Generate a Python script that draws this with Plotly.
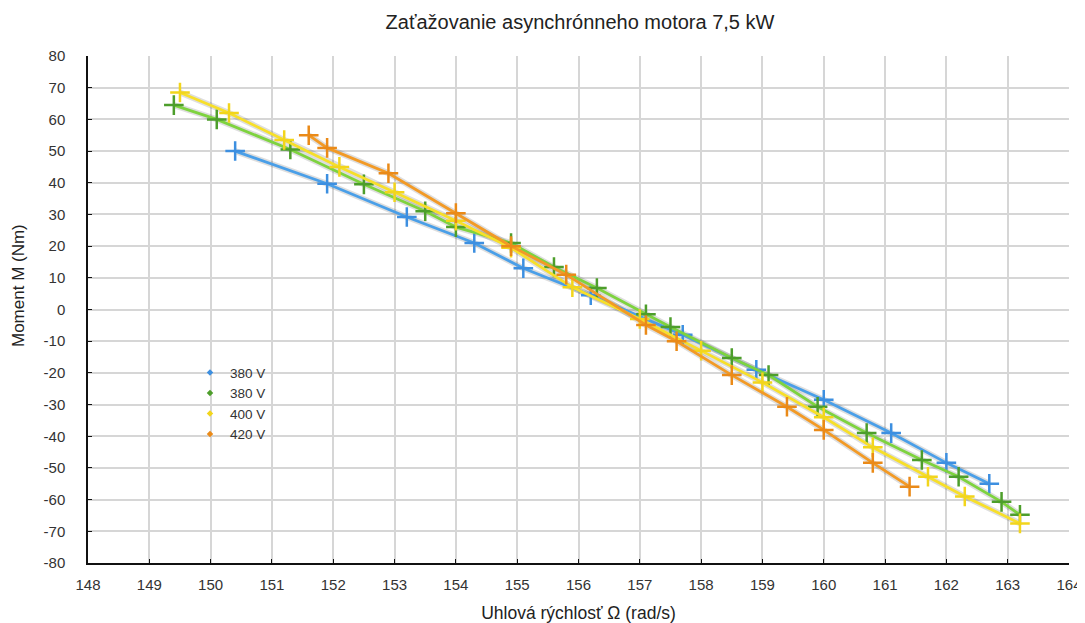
import plotly.graph_objects as go

# Data
blue_x = [150.4, 151.9, 153.2, 154.3, 155.1, 156.2, 157.7, 158.9, 160.0, 161.1, 162.0, 162.7]
blue_y = [50.0, 39.7, 29.2, 21.0, 13.0, 4.5, -8.0, -19.0, -28.5, -39.0, -48.4, -55.0]

green_x = [149.4, 150.1, 151.3, 152.5, 153.5, 154.0, 154.9, 155.6, 156.3, 157.1, 157.5,
           158.5, 159.1, 159.9, 160.7, 161.6, 162.2, 162.9, 163.2]
green_y = [64.5, 60.0, 50.5, 39.5, 31.0, 26.0, 21.0, 13.4, 6.8, -1.5, -5.5,
           -15.3, -20.7, -30.7, -39.0, -47.5, -52.8, -60.7, -64.8]

yellow_x = [149.5, 150.3, 151.2, 152.1, 153.0, 154.0, 154.9, 155.9, 157.0, 158.0,
            159.0, 160.0, 160.8, 161.7, 162.3, 163.2]
yellow_y = [68.5, 62.0, 53.5, 45.0, 37.0, 28.0, 19.5, 7.0, -3.0, -13.0,
            -23.0, -34.0, -43.5, -52.8, -59.0, -67.5]

orange_x = [151.6, 151.9, 152.9, 154.0, 154.9, 155.8, 157.1, 157.6, 158.5, 159.4,
            160.0, 160.8, 161.4]
orange_y = [55.0, 51.0, 43.0, 30.4, 20.0, 11.0, -4.9, -10.0, -20.7, -30.7,
            -38.0, -48.4, -55.9]

series_names = ["380 V", "380 V", "400 V", "420 V"]
line_colors = ["#4a9fe8", "#7ed33f", "#f7df2a", "#f29a26"]
marker_colors = ["#3d8fe0", "#4d9e2b", "#f2d51c", "#ea8a18"]

x_ticks = list(range(148, 165))
y_ticks = list(range(-80, 81, 10))

series = [(blue_x, blue_y), (green_x, green_y), (yellow_x, yellow_y), (orange_x, orange_y)]

fig = go.Figure()

# soft shadows
for xs, ys in series:
    fig.add_trace(go.Scatter(x=xs, y=ys, mode="lines",
                             line=dict(color="rgba(0,0,0,0.13)", width=6),
                             hoverinfo="skip", showlegend=False))

for (xs, ys), name, lc, mc in zip(series, series_names, line_colors, marker_colors):
    fig.add_trace(go.Scatter(x=xs, y=ys, mode="lines+markers", name=name,
                             line=dict(color=lc, width=2.8),
                             marker=dict(symbol="cross-thin", size=14,
                                         line=dict(color=mc, width=2.5)),
                             showlegend=False))

# legend entries (small markers only)
for name, mc in zip(series_names, marker_colors):
    fig.add_trace(go.Scatter(x=[None], y=[None], mode="markers", name=name,
                             marker=dict(symbol="diamond", size=5, color=mc),
                             showlegend=True))

font_family = "Liberation Sans, Arial, sans-serif"

W, H = 1077, 615  # page body has an 8px margin
fig.update_layout(
    width=W, height=H,
    margin=dict(l=80, r=16, t=48, b=60, autoexpand=False),
    paper_bgcolor="white", plot_bgcolor="white",
    font=dict(family=font_family, size=15, color="#333333"),
    title=dict(text="Zaťažovanie asynchrónneho motora 7,5 kW",
               x=572 / W, xanchor="center",
               y=1 - 14 / H, yanchor="middle", yref="container",
               font=dict(size=20, color="#222222")),
    legend=dict(x=0.104, y=0.406, xanchor="left", yanchor="top",
                bgcolor="rgba(0,0,0,0)", font=dict(size=13.5, color="#333333"),
                tracegroupgap=0),
    showlegend=True,
    annotations=[dict(text="Moment M (Nm)", textangle=-90,
                      xref="paper", yref="paper",
                      x=-(80 - 10) / 981, y=1 - (286 - 56) / 507,
                      xanchor="center", yanchor="middle", showarrow=False,
                      font=dict(size=17, color="#222222"))],
)

fig.update_xaxes(range=[148, 164], tickvals=x_ticks, ticktext=[str(v) for v in x_ticks],
                 showgrid=True, gridcolor="#d6d6d6", gridwidth=1.5,
                 showline=True, linecolor="#111111", linewidth=1.5,
                 ticks="inside", ticklen=4, tickcolor="#111111",
                 tickfont=dict(size=15),
                 zeroline=False, mirror=False, automargin=False,
                 ticklabelstandoff=7,
                 title=dict(text="Uhlová rýchlosť Ω (rad/s)", font=dict(size=17.5, color="#222222"),
                            standoff=18))
fig.update_yaxes(range=[-80, 80], tickvals=y_ticks, ticktext=[str(v) for v in y_ticks],
                 showgrid=True, gridcolor="#d6d6d6", gridwidth=1.5,
                 showline=True, linecolor="#111111", linewidth=1.5,
                 ticks="inside", ticklen=4, tickcolor="#111111",
                 tickfont=dict(size=15),
                 zeroline=False, automargin=False,
                 ticklabelstandoff=18)

fig.write_html("out.html",
               post_script="document.documentElement.style.overflow='hidden';"
                           "document.body.style.overflow='hidden';")
